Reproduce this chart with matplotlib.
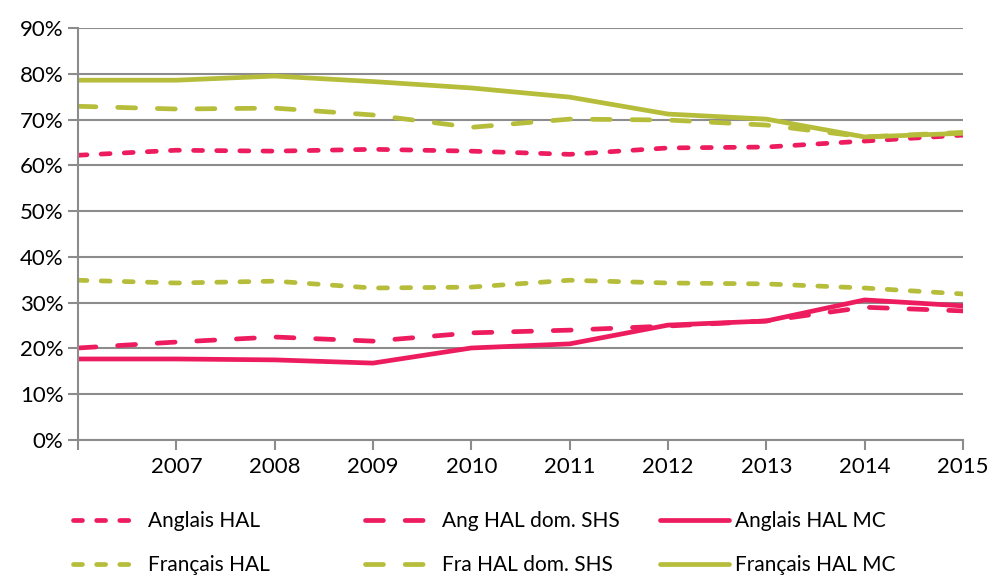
import matplotlib.pyplot as plt
from matplotlib.ticker import FuncFormatter

plt.rcParams['font.family'] = ['Lato', 'DejaVu Sans']

years = [2006, 2007, 2008, 2009, 2010, 2011, 2012, 2013, 2014, 2015]
tick_labels = ["", "2007", "2008", "2009", "2010", "2011", "2012", "2013", "2014", "2015"]

# values in %
anglais_hal = [62.2, 63.3, 63.1, 63.5, 63.1, 62.4, 63.8, 64.0, 65.3, 66.6]
ang_hal_shs = [20.1, 21.4, 22.5, 21.6, 23.4, 24.0, 24.9, 26.0, 29.0, 28.2]
anglais_hal_mc = [17.7, 17.7, 17.5, 16.8, 20.1, 21.0, 25.1, 26.0, 30.6, 29.3]
francais_hal = [34.9, 34.3, 34.7, 33.2, 33.4, 34.9, 34.3, 34.1, 33.2, 31.9]
fra_hal_shs = [72.9, 72.3, 72.5, 71.0, 68.3, 70.1, 69.9, 68.8, 66.2, 67.2]
francais_hal_mc = [78.6, 78.6, 79.5, 78.3, 76.9, 74.9, 71.2, 70.1, 66.2, 67.0]

pink = "#ED1C5F"
green = "#B6BD3A"
grid_col = "#8C8C8C"
short = (1.9, 3.0)
long_ = (3.8, 4.6)
lw = 3.4

fig = plt.figure(figsize=(9.91, 5.77), dpi=100)
ax = fig.add_axes([78 / 991, 1 - 440 / 577, (963 - 78) / 991, (440 - 28) / 577])

series = [
    ("Anglais HAL", anglais_hal, pink, short),
    ("Français HAL", francais_hal, green, short),
    ("Ang HAL dom. SHS", ang_hal_shs, pink, long_),
    ("Fra HAL dom. SHS", fra_hal_shs, green, long_),
    ("Anglais HAL MC", anglais_hal_mc, pink, None),
    ("Français HAL MC", francais_hal_mc, green, None),
]

handles = []
for name, vals, col, dash in series:
    if dash is None:
        line, = ax.plot(years, vals, color=col, lw=lw, solid_capstyle='round',
                        solid_joinstyle='round', label=name)
    else:
        line, = ax.plot(years, vals, color=col, lw=lw, dashes=dash,
                        dash_capstyle='round', dash_joinstyle='round', label=name)
    handles.append(line)

ax.set_xlim(2006, 2015)
ax.set_ylim(0, 90)
ax.set_yticks(range(0, 91, 10))
ax.yaxis.set_major_formatter(FuncFormatter(lambda v, p: f"{int(v)}%"))
ax.set_xticks(years)
ax.set_xticklabels(tick_labels)
ax.grid(axis='y', color=grid_col, lw=1.5)
ax.set_axisbelow(True)
for s in ['top', 'right']:
    ax.spines[s].set_visible(False)
for s in ['left', 'bottom']:
    ax.spines[s].set_color(grid_col)
    ax.spines[s].set_linewidth(1.5)
ax.tick_params(axis='both', colors=grid_col, length=7, width=1.5, labelsize=16,
               labelcolor='black', direction='out')
ax.tick_params(axis='x', pad=5)

# legend: three columns at fixed positions
col_x = [73 / 991, 365 / 991, 660 / 991]
hls = [2.85, 3.0, 3.3]
pads = [0.75, 0.7, 0.3]
for i in range(3):
    fig.legend(handles[2 * i:2 * i + 2], [h.get_label() for h in handles[2 * i:2 * i + 2]],
               loc='upper left', bbox_to_anchor=(col_x[i], 1 - 511 / 577),
               frameon=False, fontsize=15, handlelength=hls[i], handletextpad=pads[i],
               labelspacing=1.15, borderaxespad=0, borderpad=0)

fig.savefig("out.png", dpi=100)
